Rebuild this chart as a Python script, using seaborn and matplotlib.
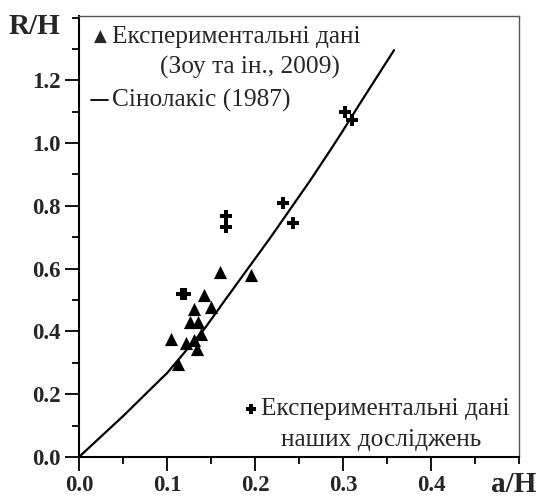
import matplotlib
matplotlib.use("Agg")
import matplotlib.pyplot as plt
import pandas as pd
import seaborn as sns
from matplotlib.ticker import MultipleLocator

# experimental data, Zou et al. 2009 (triangles)
zou_x = [0.104, 0.112, 0.122, 0.126, 0.131, 0.135, 0.134, 0.131, 0.139, 0.142, 0.150, 0.160, 0.196]
zou_y = [0.377, 0.297, 0.363, 0.430, 0.473, 0.430, 0.345, 0.372, 0.393, 0.515, 0.478, 0.589, 0.579]

# our experimental data (crosses)
our_x = [0.117, 0.121, 0.1665, 0.1665, 0.232, 0.243, 0.302, 0.310]
our_y = [0.520, 0.518, 0.767, 0.733, 0.809, 0.745, 1.099, 1.075]

# Synolakis (1987) curve
syn_x = [0.0, 0.05, 0.094, 0.1, 0.143, 0.166, 0.217, 0.2625, 0.285, 0.30, 0.319, 0.358]
syn_y = [0.0, 0.13, 0.251, 0.267, 0.41, 0.50, 0.697, 0.88, 0.975, 1.040, 1.125, 1.296]

x_ticks = [0.0, 0.1, 0.2, 0.3, 0.4]
y_ticks = [0.0, 0.2, 0.4, 0.6, 0.8, 1.0, 1.2]

sns.set_theme(style="white")
plt.rcParams["font.family"] = ["Liberation Serif", "DejaVu Serif"]

fig = plt.figure(figsize=(5.37, 4.99), dpi=100)
ax = fig.add_axes([0.1471, 0.0842, 0.8194, 0.8838])

syn = pd.DataFrame({"x": syn_x, "y": syn_y})
sns.lineplot(data=syn, x="x", y="y", ax=ax, color="black", linewidth=1.6, sort=False)

zou = pd.DataFrame({"x": zou_x, "y": zou_y})
sns.scatterplot(data=zou, x="x", y="y", ax=ax, marker="^", s=90, color="black",
                edgecolor="black", linewidth=0, zorder=3)

our = pd.DataFrame({"x": our_x, "y": our_y})
sns.scatterplot(data=our, x="x", y="y", ax=ax, marker="P", s=70, color="black",
                edgecolor="black", linewidth=0, zorder=3)

ax.set_xlim(0, 0.5)
ax.set_ylim(0, 1.405)
ax.set_xticks(x_ticks)
ax.set_yticks(y_ticks)
ax.set_xticklabels([f"{v:.1f}" for v in x_ticks], fontsize=16.5, fontweight="bold")
ax.set_yticklabels([f"{v:.1f}" for v in y_ticks], fontsize=16.5, fontweight="bold")
ax.xaxis.set_minor_locator(MultipleLocator(0.05))
ax.yaxis.set_minor_locator(MultipleLocator(0.1))
ax.tick_params(which="major", direction="out", length=10, width=1.3, color="black",
               bottom=True, left=True, pad=3)
ax.tick_params(which="minor", direction="out", length=5, width=1.3, color="black",
               bottom=True, left=True)
ax.set_xlabel("")
ax.set_ylabel("")

for side in ["left", "bottom"]:
    ax.spines[side].set_color("black")
    ax.spines[side].set_linewidth(1.5)
for side in ["top", "right"]:
    ax.spines[side].set_color("#555555")
    ax.spines[side].set_linewidth(1.0)

# axis names
fig.text(9 / 537, 1 - 26 / 499, "R/H", fontsize=21, fontweight="bold", ha="left", va="center")
fig.text(536 / 537, 1 - 485 / 499, "a/H", fontsize=21, fontweight="bold", ha="right", va="center")

# legend-like labels
fs = 18.3
ax.text(0.0239, 1.338, "▲", fontsize=12, ha="center", va="center", family=["DejaVu Sans"])
ax.text(0.0375, 1.338, "Експериментальні дані", fontsize=fs, ha="left", va="center")
ax.text(0.0920, 1.242, "(Зоу та ін., 2009)", fontsize=fs, ha="left", va="center")
ax.plot([0.0136, 0.0330], [1.137, 1.137], color="black", linewidth=1.3)
ax.text(0.0370, 1.137, "Сінолакіс (1987)", fontsize=fs, ha="left", va="center")

ax.scatter([0.1955], [0.153], marker="P", s=60, color="black", linewidth=0)
ax.text(0.2070, 0.153, "Експериментальні дані", fontsize=fs, ha="left", va="center")
ax.text(0.2290, 0.054, "наших досліджень", fontsize=fs, ha="left", va="center")

fig.savefig("out.png", dpi=100)
